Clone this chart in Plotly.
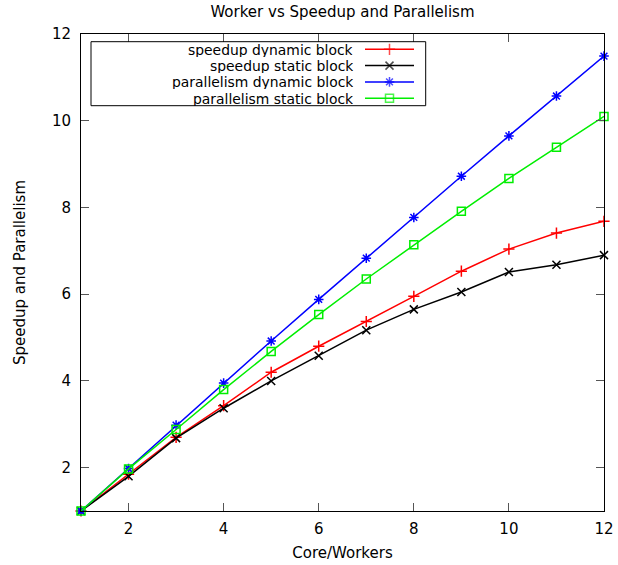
import plotly.graph_objects as go

workers = [1, 2, 3, 4, 5, 6, 7, 8, 9, 10, 11, 12]
speedup_dynamic = [1.0, 1.85, 2.70, 3.43, 4.20, 4.80, 5.37, 5.95, 6.53, 7.04, 7.41, 7.68]
speedup_static = [1.0, 1.80, 2.68, 3.37, 4.00, 4.58, 5.17, 5.65, 6.05, 6.51, 6.68, 6.90]
parallelism_dynamic = [1.0, 1.98, 2.98, 3.95, 4.92, 5.88, 6.83, 7.77, 8.72, 9.65, 10.57, 11.49]
parallelism_static = [1.0, 1.97, 2.88, 3.80, 4.68, 5.53, 6.35, 7.14, 7.91, 8.67, 9.39, 10.10]
tick_values = [2, 4, 6, 8, 10, 12]

names = ["speedup dynamic block", "speedup static block",
         "parallelism dynamic block", "parallelism static block"]
series = [speedup_dynamic, speedup_static, parallelism_dynamic, parallelism_static]
colors = ["#ff0000", "#000000", "#0000ff", "#00ee00"]
symbols = ["cross-thin-open", "x-thin-open", "asterisk-open", "square-open"]

W, H = 618, 565
L, R, T, B = 81, 14, 34, 54
PW, PH = W - L - R, H - T - B

fig = go.Figure()
for name, ys, c, s in zip(names, series, colors, symbols):
    fig.add_trace(go.Scatter(
        x=workers, y=ys, mode="lines+markers", name=name,
        line=dict(color=c, width=1.5),
        marker=dict(symbol=s, size=8, color=c, line=dict(color=c, width=1.5)),
        cliponaxis=False, showlegend=False))

# custom gnuplot-style legend (text right, sample on the right)
font = "DejaVu Sans, sans-serif"
row0, dy = 49.3, 16.3
for i, (name, c, s) in enumerate(zip(names, colors, symbols)):
    ypix = row0 + dy * i
    yv = (T + PH) - ypix  # pixel from plot bottom
    fig.add_trace(go.Scatter(
        x=[284, 308.5, 333], y=[yv, yv, yv], xaxis="x2", yaxis="y2",
        mode="lines+markers", line=dict(color=c, width=1.5),
        marker=dict(symbol=s, size=[0, 8, 0], color=c, line=dict(color=c, width=1.5)),
        showlegend=False, hoverinfo="skip", cliponaxis=False))
    fig.add_annotation(x=(354 - L) / PW, y=yv / PH, xref="paper", yref="paper",
                       text=name, showarrow=False, xanchor="right", yanchor="middle",
                       height=15, valign="middle", borderpad=0,
                       font=dict(family=font, size=13.9, color="#000"))

fig.add_shape(type="rect", xref="paper", yref="paper",
              x0=(91 - L) / PW, x1=(425.7 - L) / PW,
              y0=(T + PH - 105.7) / PH, y1=(T + PH - 41.7) / PH,
              line=dict(color="#000", width=1), fillcolor="rgba(0,0,0,0)")

axis_common = dict(showline=True, linecolor="#000", linewidth=1, mirror="ticks",
                   ticks="inside", ticklen=8, tickcolor="#555", tickwidth=1,
                   showgrid=False, zeroline=False, automargin=False,
                   tickfont=dict(family=font, size=15, color="#000"))

fig.update_layout(
    width=W, height=H,
    margin=dict(l=L, r=R, t=T, b=B, autoexpand=False),
    paper_bgcolor="white", plot_bgcolor="white",
    font=dict(family=font, size=15, color="#000"),
    title=dict(text="Worker vs Speedup and Parallelism", x=0.5, xref="paper",
               y=1 - 12 / H, yref="container", yanchor="middle", xanchor="center",
               pad=dict(t=0, b=0), automargin=False,
               font=dict(family=font, size=15)),
    xaxis=dict(range=[1, 12], tickvals=tick_values,
               title=dict(text="Core/Workers", standoff=10, font=dict(size=15)),
               ticklabelstandoff=4, **axis_common),
    yaxis=dict(range=[1, 12], tickvals=tick_values,
               title=dict(text="Speedup and Parallelism", standoff=22, font=dict(size=15)),
               ticklabelstandoff=6, **axis_common),
    xaxis2=dict(range=[0, PW], overlaying="x", visible=False, fixedrange=True),
    yaxis2=dict(range=[0, PH], overlaying="y", visible=False, fixedrange=True),
)

fig.write_html("out.html", config={"displayModeBar": False},
               post_script="document.body.style.margin='0';document.body.style.overflow='hidden';")
